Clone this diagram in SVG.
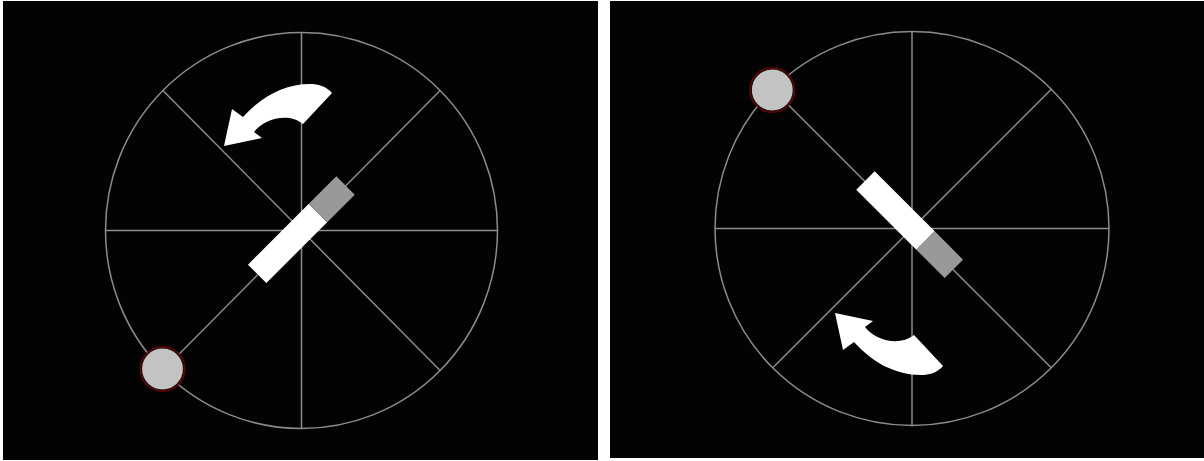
<svg xmlns="http://www.w3.org/2000/svg" width="1204" height="461" viewBox="0 0 1204 461">
<defs>
<style>
.panel{fill:#030303}
.wheel{fill:none;stroke:#8c8c8c;stroke-width:1.5}
.rod-w{fill:#ffffff}
.rod-g{fill:#999999}
.ball{fill:#c3c3c3;stroke:#111;stroke-width:1.2}
.glow{fill:none;stroke:#7a0000;stroke-width:2.2;opacity:0.85}
.arrow{fill:#ffffff}
</style>
<path id="curl" class="arrow" d="M -77 -84 L -39 -92 L -47 -98 C -37 -111, -13 -118, 2 -106 L 31 -137 C 25 -144, 17 -146, 9 -146 C -16 -146, -39 -134, -58 -113 L -69 -121 Z"/>
</defs>
<rect width="1204" height="461" fill="#ffffff"/>
<g id="panel-left">
<rect x="3" y="1" width="595" height="459" class="panel"/>
<g id="wheel-left" transform="translate(301.5,230.5)">
<ellipse cx="0" cy="0" rx="196" ry="198" class="wheel"/>
<line x1="-196" y1="0" x2="196" y2="0" class="wheel"/>
<line x1="0" y1="-198" x2="0" y2="198" class="wheel"/>
<line x1="-138.6" y1="-140" x2="138.6" y2="140" class="wheel"/>
<line x1="-138.6" y1="140" x2="138.6" y2="-140" class="wheel"/>
</g>
<g id="arrow-left"><use href="#curl" transform="translate(301,230)"/></g>
<g id="rod-left" transform="translate(301,230) rotate(-45)">
<rect x="-62" y="-13" width="86" height="26" class="rod-w"/>
<rect x="24" y="-13" width="39" height="26" class="rod-g"/>
</g>
<g id="ball-left">
<circle cx="162.5" cy="369" r="22" class="glow"/>
<circle cx="162.5" cy="369" r="21" class="ball"/>
</g>
</g>
<g id="panel-right">
<rect x="610" y="1" width="594" height="457" class="panel"/>
<g id="wheel-right" transform="translate(912,228.5)">
<ellipse cx="0" cy="0" rx="197" ry="197" class="wheel"/>
<line x1="-197" y1="0" x2="197" y2="0" class="wheel"/>
<line x1="0" y1="-197" x2="0" y2="197" class="wheel"/>
<line x1="-139.3" y1="-139.3" x2="139.3" y2="139.3" class="wheel"/>
<line x1="-139.3" y1="139.3" x2="139.3" y2="-139.3" class="wheel"/>
</g>
<g id="arrow-right"><use href="#curl" transform="translate(912,229) scale(1,-1)"/></g>
<g id="rod-right" transform="translate(910,225) rotate(45)">
<rect x="-63" y="-13" width="85" height="26" class="rod-w"/>
<rect x="22" y="-13" width="40" height="26" class="rod-g"/>
</g>
<g id="ball-right">
<circle cx="772.3" cy="90" r="22" class="glow"/>
<circle cx="772.3" cy="90" r="21" class="ball"/>
</g>
</g>
</svg>
